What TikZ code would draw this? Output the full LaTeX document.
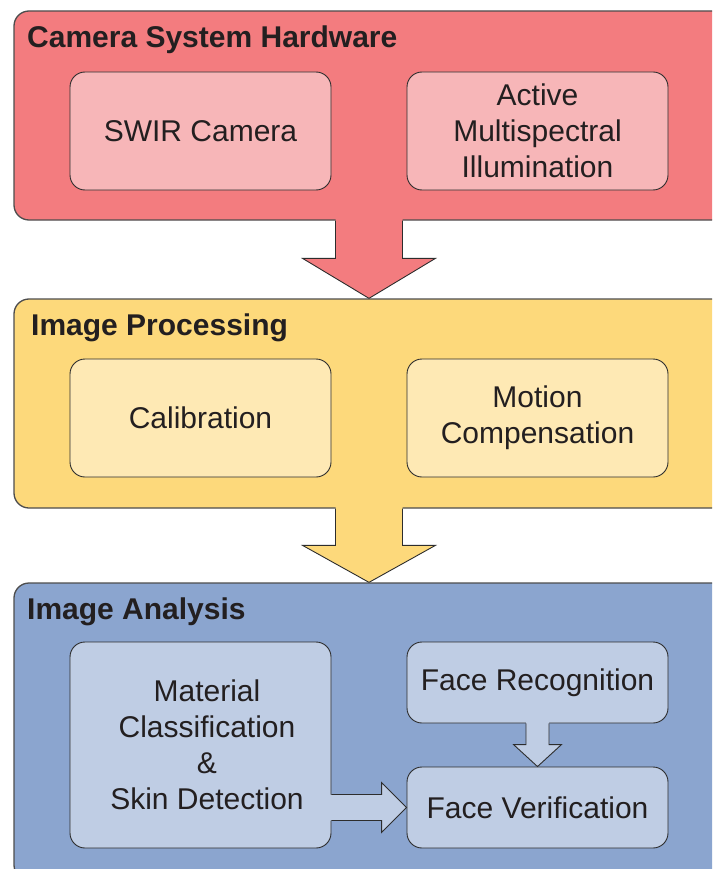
\documentclass[tikz,border=0pt]{standalone}
\usepackage{fontspec}
\setmainfont{Liberation Sans}
\usetikzlibrary{calc}

\definecolor{inkc}{RGB}{35,31,32}
\definecolor{edgeouter}{RGB}{77,77,77}
\definecolor{edgeinner}{RGB}{45,45,45}
\definecolor{redout}{RGB}{243,124,127}
\definecolor{redin}{RGB}{247,182,184}
\definecolor{yelout}{RGB}{253,217,123}
\definecolor{yelin}{RGB}{254,233,180}
\definecolor{bluout}{RGB}{139,165,207}
\definecolor{bluin}{RGB}{191,205,228}

% block arrow pointing down: fill, start, tip, shaft half width, head half width, head length
\newcommand\blockdown[6]{%
  \fill[#1] ($(#2)+(-#4,-2)$) -- ($(#3)+(-#4,-#6)$) -- ($(#3)+(-#5,-#6)$) -- (#3)
    -- ($(#3)+(#5,-#6)$) -- ($(#3)+(#4,-#6)$) -- ($(#2)+(#4,-2)$) -- cycle;
  \draw[arrowline] ($(#2)+(-#4,0)$) -- ($(#3)+(-#4,-#6)$) -- ($(#3)+(-#5,-#6)$) -- (#3)
    -- ($(#3)+(#5,-#6)$) -- ($(#3)+(#4,-#6)$) -- ($(#2)+(#4,0)$);}
% block arrow pointing right
\newcommand\blockright[6]{%
  \fill[#1] ($(#2)+(-2,-#4)$) -- ($(#3)+(-#6,-#4)$) -- ($(#3)+(-#6,-#5)$) -- (#3)
    -- ($(#3)+(-#6,#5)$) -- ($(#3)+(-#6,#4)$) -- ($(#2)+(-2,#4)$) -- cycle;
  \draw[arrowline] ($(#2)+(0,-#4)$) -- ($(#3)+(-#6,-#4)$) -- ($(#3)+(-#6,-#5)$) -- (#3)
    -- ($(#3)+(-#6,#5)$) -- ($(#3)+(-#6,#4)$) -- ($(#2)+(0,#4)$);}

\tikzset{
  outerbox/.style={draw=edgeouter, line width=1.3pt, rounded corners=15pt,
    inner sep=0pt, minimum width=730pt},
  innerbox/.style={draw=edgeinner, line width=0.9pt, rounded corners=15pt,
    inner sep=0pt, minimum width=261pt, align=center, text=inkc,
    font=\fontsize{30}{36}\selectfont},
  titletext/.style={anchor=base west, inner sep=0pt, text=inkc,
    font=\fontsize{30}{36}\selectfont\bfseries},
  arrowline/.style={draw=edgeinner, line width=0.9pt, line join=miter},
}

\begin{document}
\begin{tikzpicture}[x=1pt, y=-1pt]
\path[use as bounding box] (0,0) rectangle (712,869);
\clip (0,0) rectangle (712,869);

% stage frames
\node[outerbox, fill=redout, minimum height=209pt] (hw) at (379,115.5) {};
\node[outerbox, fill=yelout, minimum height=209pt] (ip) at (379,403.5) {};
\node[outerbox, fill=bluout, minimum height=297pt] (ia) at (379,731.5) {};

% stage titles
\node[titletext] (thw) at (27,48) {Camera System Hardware};
\node[titletext] (tip) at (31,335) {Image Processing};
\node[titletext] (tia) at (27,619) {Image Analysis};

% hardware
\node[innerbox, fill=redin, minimum height=118pt] (swir) at (200.5,131) {SWIR Camera};
\node[innerbox, fill=redin, minimum height=118pt] (illum) at (537.5,131) {Active\\Multispectral\\Illumination};

% processing
\node[innerbox, fill=yelin, minimum height=118pt] (calib) at (200.5,418) {Calibration};
\node[innerbox, fill=yelin, minimum height=118pt] (motion) at (537.5,418) {Motion\\Compensation};

% analysis
\node[innerbox, fill=bluin, minimum height=206pt] (mat) at (200.5,745) {};
\node[align=center, text=inkc, inner sep=0pt, font=\fontsize{30}{36}\selectfont]
  (mattext) at ($(mat.center)+(6.5,0)$) {Material\\Classification\\\&\\Skin Detection};
\node[innerbox, fill=bluin, minimum height=81pt] (frec) at (537.5,682.5) {Face Recognition};
\node[innerbox, fill=bluin, minimum height=81pt] (fver) at (537.5,807.5) {Face Verification};

% connectors between stages
\coordinate (m1) at ($(swir.east)!0.5!(illum.west)$);
\coordinate (m2) at ($(calib.east)!0.5!(motion.west)$);
\blockdown{redout}{m1 |- hw.south}{m1 |- ip.north}{33.5}{66.5}{40}
\blockdown{yelout}{m2 |- ip.south}{m2 |- ia.north}{33.5}{66.5}{37}

% connectors inside the analysis stage
\blockdown{bluin}{frec.south}{fver.north}{11.5}{24}{22}
\blockright{bluin}{fver.west -| mat.east}{fver.west}{13}{25}{25}
\end{tikzpicture}
\end{document}
